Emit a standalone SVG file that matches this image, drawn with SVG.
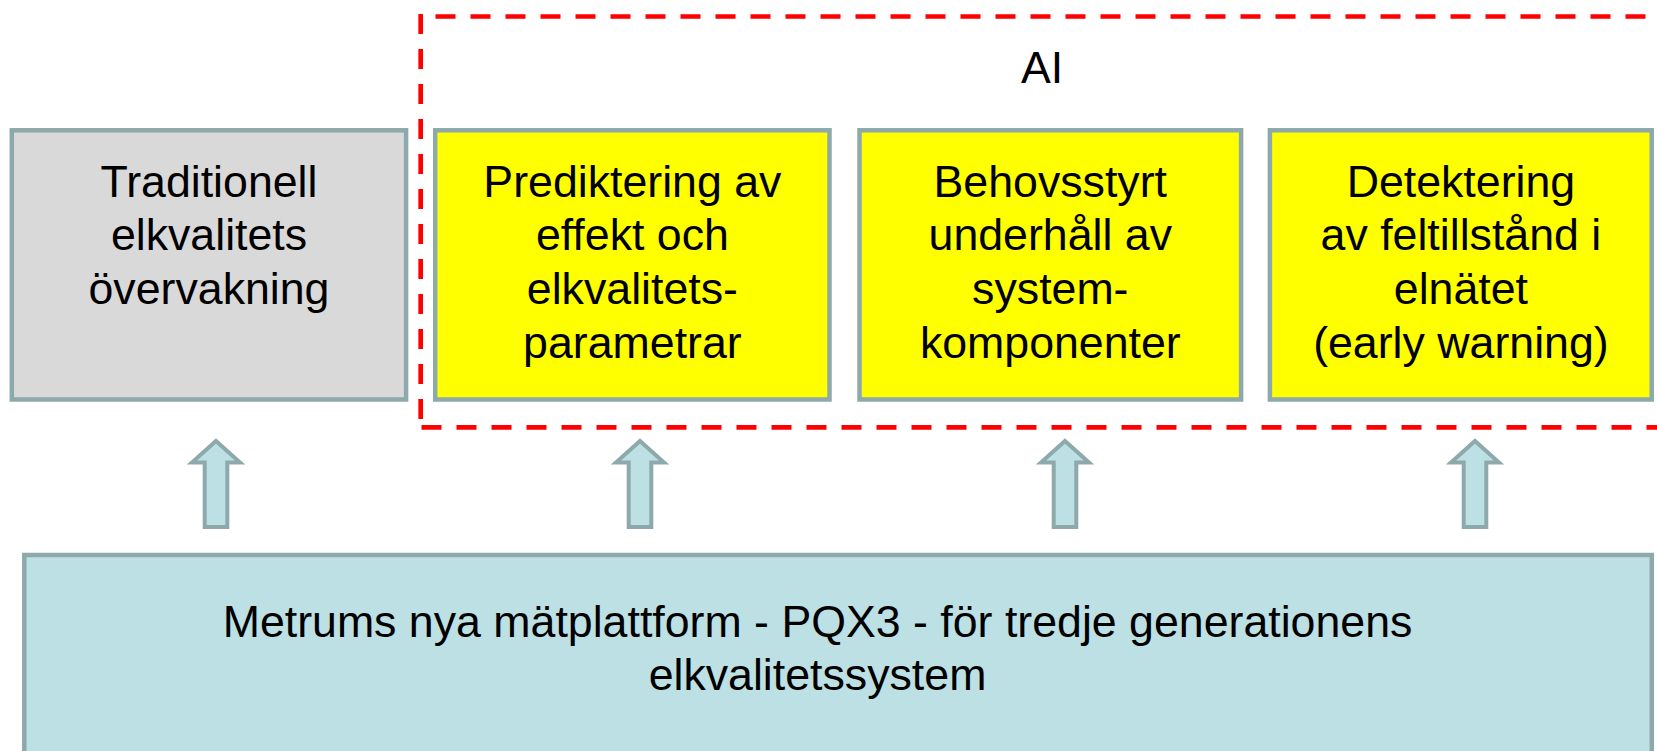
<svg xmlns="http://www.w3.org/2000/svg" width="1657" height="751" viewBox="0 0 1657 751">
<defs>
<style>
.box{stroke:#8ea9ab;stroke-width:4.5}
.grey{fill:#d9d9d9}
.yel{fill:#ffff00}
.base{fill:#bce0e3}
.t{font-family:"Liberation Sans",Arial,sans-serif;font-size:44.7px;fill:#000;text-anchor:middle}
.dash{fill:none;stroke:#ff0000;stroke-width:4.7;stroke-dasharray:20 15}
.arr{fill:#bce0e3;stroke:#8ea9ab;stroke-width:4;stroke-linejoin:miter}
</style>
</defs>
<rect width="1657" height="751" fill="#ffffff"/>
<g id="ai-group">
<path class="dash" d="M420.7 14 V430"/>
<path class="dash" d="M421.5 427.3 H1700"/>
<path class="dash" d="M435.5 16.5 H1700"/>
<text class="t" x="1042" y="82.7">AI</text>
</g>
<g id="traditionell">
<rect class="box grey" x="11.8" y="130.3" width="394.3" height="269.2"/>
<text class="t" x="209" y="196.7">Traditionell</text>
<text class="t" x="209" y="250.3">elkvalitets</text>
<text class="t" x="209" y="304">övervakning</text>
</g>
<g id="prediktering">
<rect class="box yel" x="435.2" y="130.3" width="394.3" height="269.2"/>
<text class="t" x="632.4" y="196.7">Prediktering av</text>
<text class="t" x="632.4" y="250.3">effekt och</text>
<text class="t" x="632.4" y="304">elkvalitets-</text>
<text class="t" x="632.4" y="357.7">parametrar</text>
</g>
<g id="behovsstyrt">
<rect class="box yel" x="859.5" y="130.3" width="381.6" height="269.2"/>
<text class="t" x="1050.3" y="196.7">Behovsstyrt</text>
<text class="t" x="1050.3" y="250.3">underhåll av</text>
<text class="t" x="1050.3" y="304">system-</text>
<text class="t" x="1050.3" y="357.7">komponenter</text>
</g>
<g id="detektering">
<rect class="box yel" x="1269.9" y="130.3" width="381.8" height="269.2"/>
<text class="t" x="1460.9" y="196.7">Detektering</text>
<text class="t" x="1460.9" y="250.3">av feltillstånd i</text>
<text class="t" x="1460.9" y="304">elnätet</text>
<text class="t" x="1460.9" y="357.7">(early warning)</text>
</g>
<g id="plattform">
<rect class="box base" x="24.3" y="555" width="1627.5" height="200"/>
<text class="t" x="817.5" y="637">Metrums nya mätplattform - PQX3 - för tredje generationens</text>
<text class="t" x="817.5" y="690">elkvalitetssystem</text>
</g>
<g id="connectors">
<path class="arr" d="M216 441 L240 462.5 H227.3 V527 H204.7 V462.5 H192 Z"/>
<path class="arr" d="M640 441 L664 462.5 H651.3 V527 H628.7 V462.5 H616 Z"/>
<path class="arr" d="M1065 441 L1089 462.5 H1076.3 V527 H1053.7 V462.5 H1041 Z"/>
<path class="arr" d="M1475 441 L1499 462.5 H1486.3 V527 H1463.7 V462.5 H1451 Z"/>
</g>
</svg>
